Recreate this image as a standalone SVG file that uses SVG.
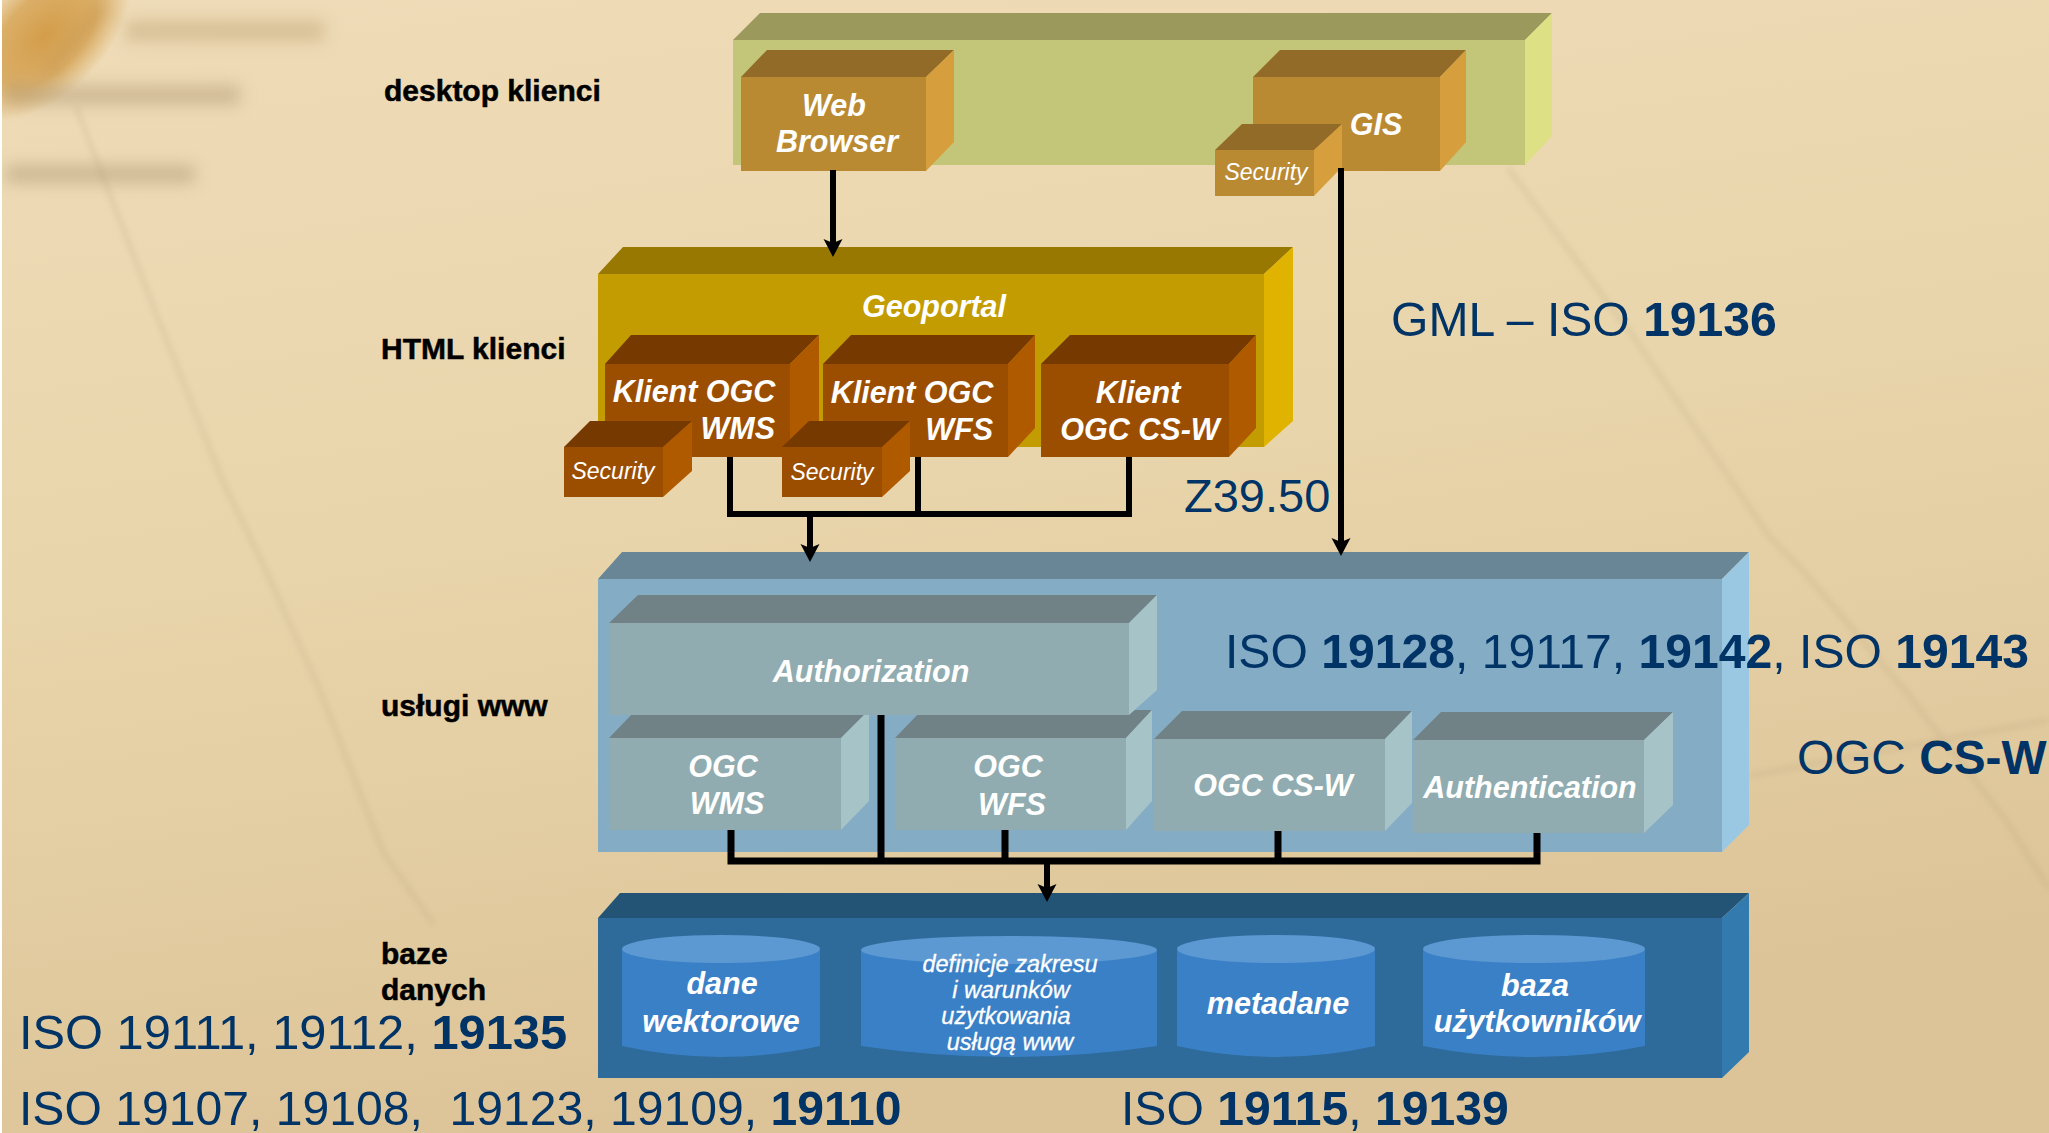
<svg xmlns="http://www.w3.org/2000/svg" width="2049" height="1133" viewBox="0 0 2049 1133">
<style>
text{font-family:"Liberation Sans",Arial,sans-serif}
.lab{font-size:30px;font-weight:bold;fill:#000;stroke:#000;stroke-width:.5}
.w{font-size:30.5px;font-weight:bold;font-style:italic;fill:#fff;text-anchor:middle}
.we{text-anchor:end}
.sec{font-size:23px;font-style:italic;fill:#fff;text-anchor:middle}
.def{font-size:23.5px;font-style:italic;fill:#fff;text-anchor:middle;stroke:#fff;stroke-width:.3}
.iso{font-size:48.1px;fill:#003366;white-space:pre}
.iso tspan{font-weight:bold}
.c{fill:none;stroke:#000;stroke-width:6}
.c2{fill:none;stroke:#000;stroke-width:7}
.dF{fill:#c3c678}.dT{fill:#9b9a5c}.dR{fill:#dde085}
.bF{fill:#ba8a33}.bT{fill:#926b28}.bR{fill:#d69e3c}
.gF{fill:#c29c00}.gT{fill:#987800}.gR{fill:#e0b300}
.kF{fill:#9c4e00}.kT{fill:#763a00}.kR{fill:#b05a00}
.sF{fill:#85acc5}.sT{fill:#688696}.sR{fill:#9ac7e2}
.aF{fill:#90acb0}.aT{fill:#708285}.aR{fill:#a6c4c8}
.zF{fill:#2e6a9a}.zT{fill:#245475}.zR{fill:#337aae}
.cyB{fill:#3a80c6}.cyT{fill:#5c98d2}
</style>
<defs>
<linearGradient id="bg" x1="0" y1="0" x2="0.25" y2="1">
<stop offset="0" stop-color="#efdcb8"/><stop offset=".5" stop-color="#e9d5ab"/><stop offset="1" stop-color="#ddc498"/>
</linearGradient>
<radialGradient id="sm"><stop offset="0" stop-color="#d29a45" stop-opacity=".95"/><stop offset=".6" stop-color="#d6a353" stop-opacity=".8"/><stop offset="1" stop-color="#d6a353" stop-opacity="0"/></radialGradient>
<filter id="b6" filterUnits="userSpaceOnUse" x="-100" y="-100" width="600" height="400"><feGaussianBlur stdDeviation="8"/></filter>
<filter id="b2" filterUnits="userSpaceOnUse" x="0" y="0" width="2049" height="1133"><feGaussianBlur stdDeviation="3"/></filter>
<marker id="ah" markerUnits="userSpaceOnUse" markerWidth="20" markerHeight="20" refX="5" refY="9.5" orient="auto"><path d="M0,0 L18,9.5 L0,19 L4,9.5 Z" fill="#000"/></marker>
</defs>
<g id="background">
<rect width="2049" height="1133" fill="url(#bg)"/>
<ellipse cx="45" cy="35" rx="105" ry="60" transform="rotate(-45 45 35)" fill="url(#sm)"/>
<path d="M105,5 L45,75" fill="none" stroke="#b5853f" stroke-width="10" opacity=".4" filter="url(#b6)"/>
<rect x="125" y="20" width="200" height="22" fill="#c2a77a" opacity=".5" filter="url(#b6)"/>
<rect x="5" y="85" width="235" height="20" fill="#b09a74" opacity=".5" filter="url(#b6)"/>
<rect x="5" y="165" width="190" height="18" fill="#ab9774" opacity=".5" filter="url(#b6)"/>
<g fill="none" stroke="#a08e6c" stroke-width="3" opacity=".28" filter="url(#b2)">
<path d="M76,107 L112,200 L159,321 L223,482 L261,560 L319,688 L383,852 L434,925"/>
<path d="M1508,168 L1635,339 L1769,536 L1803,571 L1903,688 L2003,816 L2049,889"/>
<path d="M1749,776 L2049,720"/>
</g>
<rect x="0" y="0" width="2" height="1133" fill="#fff"/>
</g>
<g id="desktop-layer">
<polygon class="dT" points="733,40 760,13 1552,13 1525,40"/><polygon class="dR" points="1525,40 1552,13 1552,136 1525,165"/><rect class="dF" x="733" y="40" width="792" height="125"/>
</g>
<g id="web-browser">
<polygon class="bT" points="741,77 767,50 954,50 926,77"/><polygon class="bR" points="926,77 954,50 954,142 926,171"/><rect class="bF" x="741" y="77" width="185" height="94"/>
<text class="w" x="834" y="116">Web</text><text class="w" x="837" y="152">Browser</text>
</g>
<g id="gis">
<polygon class="bT" points="1253,77 1280,50 1466,50 1440,77"/><polygon class="bR" points="1440,77 1466,50 1466,142 1440,171"/><rect class="bF" x="1253" y="77" width="187" height="94"/>
<text class="w" x="1376" y="135">GIS</text>
</g>
<g id="gis-security">
<polygon class="bT" points="1215,150 1242,124 1342,124 1314,150"/><polygon class="bR" points="1314,150 1342,124 1342,167 1314,196"/><rect class="bF" x="1215" y="150" width="99" height="46"/>
<text class="sec" x="1266" y="180">Security</text>
</g>
<g id="geoportal">
<polygon class="gT" points="598,274 623,247 1293,247 1264,274"/><polygon class="gR" points="1264,274 1293,247 1293,421 1264,447"/><rect class="gF" x="598" y="274" width="666" height="173"/>
<text class="w" x="934" y="317">Geoportal</text>
</g>
<g id="klient-wms">
<polygon class="kT" points="605,364 631,335 819,335 790,364"/><polygon class="kR" points="790,364 819,335 819,428 790,457"/><rect class="kF" x="605" y="364" width="185" height="93"/>
<text class="w" x="694" y="402">Klient OGC</text><text class="w we" x="775" y="439">WMS</text>
</g>
<g id="klient-wfs">
<polygon class="kT" points="823,364 851,335 1035,335 1008,364"/><polygon class="kR" points="1008,364 1035,335 1035,428 1008,457"/><rect class="kF" x="823" y="364" width="185" height="93"/>
<text class="w" x="912" y="403">Klient OGC</text><text class="w we" x="993" y="440">WFS</text>
</g>
<g id="klient-csw">
<polygon class="kT" points="1041,364 1070,335 1256,335 1229,364"/><polygon class="kR" points="1229,364 1256,335 1256,428 1229,457"/><rect class="kF" x="1041" y="364" width="188" height="93"/>
<text class="w" x="1138" y="403">Klient</text><text class="w" x="1140" y="440">OGC CS-W</text>
</g>
<g id="wms-security">
<polygon class="kT" points="564,447 590,421 692,421 663,447"/><polygon class="kR" points="663,447 692,421 692,471 663,497"/><rect class="kF" x="564" y="447" width="99" height="50"/>
<text class="sec" x="613" y="479">Security</text>
</g>
<g id="wfs-security">
<polygon class="kT" points="782,447 809,421 910,421 882,447"/><polygon class="kR" points="882,447 910,421 910,471 882,497"/><rect class="kF" x="782" y="447" width="100" height="50"/>
<text class="sec" x="832" y="480">Security</text>
</g>
<g id="services-layer">
<polygon class="sT" points="598,579 622,552 1749,552 1722,579"/><polygon class="sR" points="1722,579 1749,552 1749,825 1722,852"/><rect class="sF" x="598" y="579" width="1124" height="273"/>
</g>
<g id="ogc-wms">
<polygon class="aT" points="609,738 636,710 869,710 841,738"/><polygon class="aR" points="841,738 869,710 869,801 841,830"/><rect class="aF" x="609" y="738" width="232" height="92"/>
<text class="w" x="723" y="777">OGC</text><text class="w" x="727" y="814">WMS</text>
</g>
<g id="ogc-wfs">
<polygon class="aT" points="895,738 922,710 1152,710 1126,738"/><polygon class="aR" points="1126,738 1152,710 1152,801 1126,830"/><rect class="aF" x="895" y="738" width="231" height="92"/>
<text class="w" x="1008" y="777">OGC</text><text class="w" x="1012" y="815">WFS</text>
</g>
<g id="authorization">
<polygon class="aT" points="609,623 638,595 1157,595 1129,623"/><polygon class="aR" points="1129,623 1157,595 1157,690 1129,715"/><rect class="aF" x="609" y="623" width="520" height="92"/>
<text class="w" x="871" y="682">Authorization</text>
</g>
<g id="ogc-csw">
<polygon class="aT" points="1154,739 1182,711 1412,711 1385,739"/><polygon class="aR" points="1385,739 1412,711 1412,803 1385,831"/><rect class="aF" x="1154" y="739" width="231" height="92"/>
<text class="w" x="1273" y="796">OGC CS-W</text>
</g>
<g id="authentication">
<polygon class="aT" points="1413,740 1441,712 1673,712 1644,740"/><polygon class="aR" points="1644,740 1673,712 1673,805 1644,833"/><rect class="aF" x="1413" y="740" width="231" height="93"/>
<text class="w" x="1530" y="798">Authentication</text>
</g>
<g id="database-layer">
<polygon class="zT" points="598,918 620,893 1749,893 1722,918"/><polygon class="zR" points="1722,918 1749,893 1749,1052 1722,1078"/><rect class="zF" x="598" y="918" width="1124" height="160"/>
</g>
<g id="db-dane">
<path class="cyB" d="M622,949 V1046 Q721,1068 820,1046 V949 Z"/><ellipse class="cyT" cx="721" cy="949" rx="99" ry="14"/>
<text class="w" x="722" y="994">dane</text><text class="w" x="721" y="1032">wektorowe</text>
</g>
<g id="db-definicje">
<path class="cyB" d="M861,950 V1046 Q1009,1068 1157,1046 V950 Z"/><ellipse class="cyT" cx="1009" cy="950" rx="148" ry="14"/>
<text class="def" x="1010" y="972">definicje zakresu</text><text class="def" x="1011" y="998">i warunków</text><text class="def" x="1006" y="1024">użytkowania</text><text class="def" x="1010" y="1050">usługą www</text>
</g>
<g id="db-metadane">
<path class="cyB" d="M1177,949 V1046 Q1276,1068 1375,1046 V949 Z"/><ellipse class="cyT" cx="1276" cy="949" rx="99" ry="14"/>
<text class="w" x="1278" y="1014">metadane</text>
</g>
<g id="db-baza">
<path class="cyB" d="M1423,949 V1046 Q1534,1068 1645,1046 V949 Z"/><ellipse class="cyT" cx="1534" cy="949" rx="111" ry="14"/>
<text class="w" x="1535" y="996">baza</text><text class="w" x="1537" y="1032">użytkowników</text>
</g>
<g id="connectors">
<line class="c" x1="833" y1="170" x2="833" y2="244" marker-end="url(#ah)"/>
<line class="c" x1="1341" y1="168" x2="1341" y2="543" marker-end="url(#ah)"/>
<path class="c" d="M730,457 V514 H1129 V457 M918,457 V514"/>
<line class="c" x1="810" y1="514" x2="810" y2="549" marker-end="url(#ah)"/>
<path class="c2" d="M731,830 V861 H1537 V833 M881,715 V861 M1005,830 V861 M1278,831 V861"/>
<line class="c" x1="1047" y1="861" x2="1047" y2="889" marker-end="url(#ah)"/>
</g>
<g id="layer-labels">
<text class="lab" x="384" y="101">desktop klienci</text>
<text class="lab" x="381" y="359">HTML klienci</text>
<text class="lab" x="381" y="716">usługi www</text>
<text class="lab" x="381" y="964">baze</text>
<text class="lab" x="381" y="1000">danych</text>
</g>
<g id="standards">
<text class="iso" x="1391" y="336">GML – ISO <tspan>19136</tspan></text>
<text class="iso" style="font-size:47px" x="1184" y="512">Z39.50</text>
<text class="iso" x="1225" y="668">ISO <tspan>19128</tspan>, 19117, <tspan>19142</tspan>, ISO <tspan>19143</tspan></text>
<text class="iso" style="font-size:47.8px" x="1797" y="774">OGC <tspan>CS-W</tspan></text>
<text class="iso" style="font-size:48.8px" x="19" y="1049">ISO 19111, 19112, <tspan>19135</tspan></text>
<text class="iso" x="19" y="1125">ISO 19107, 19108,  19123, 19109, <tspan>19110</tspan></text>
<text class="iso" x="1121" y="1125">ISO <tspan>19115</tspan>, <tspan>19139</tspan></text>
</g>
</svg>
